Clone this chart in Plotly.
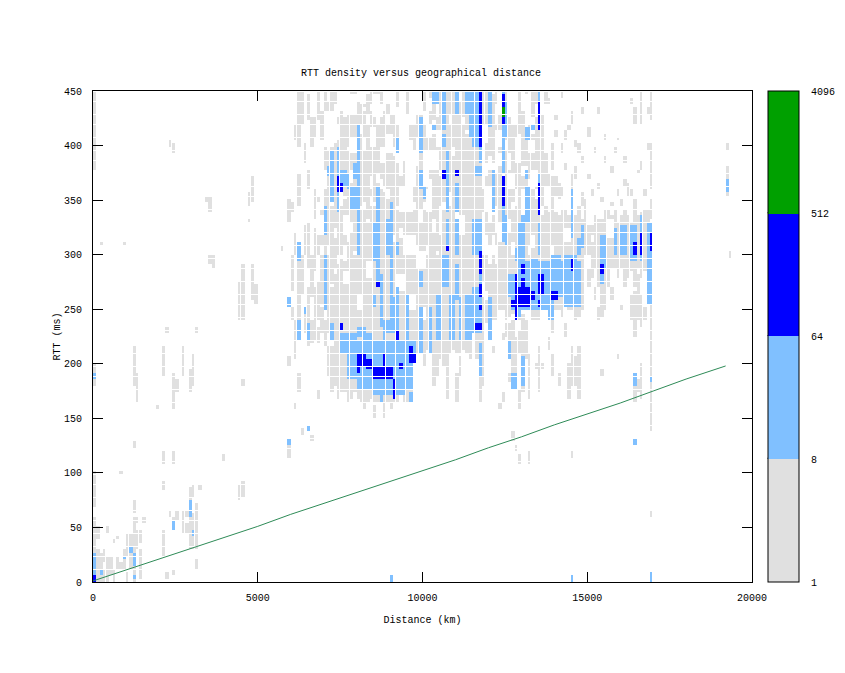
import numpy as np
import plotly.graph_objects as go

# Estimated counts standing for each colour band of the reference
LOW, MID, HIGH, PEAK = 3, 20, 150, 800

# Sparse and main cloud cells: distance bin (km) -> RTT runs (ms)
GRAY_COLS = {
 0:[(0,60),(70,100),(180,200),(380,450)],100:[(0,30),(40,50)],200:[(0,26),(310,312)],300:[(0,12),(20,28)],400:[(0,22),(45,50)],
 500:[(6,24)],600:[(0,12),(36,38)],700:[(12,22),(40,42)],800:[(12,16),(100,102)],900:[(12,30),(310,312)],1000:[(0,8),(24,45)],
 1100:[(12,45)],1200:[(0,60),(64,74),(125,128),(180,215)],1300:[(30,46),(54,58),(165,190)],1400:[(3,30),(38,46)],
 1500:[(54,58)],1900:[(160,162)],2100:[(25,47),(85,92),(108,120),(190,215)],2200:[(4,8),(230,233)],2300:[(60,64),(400,403)],
 2400:[(6,12),(50,58),(108,120),(160,190),(395,402)],2500:[(58,64),(175,185)],2700:[(45,60),(62,66),(190,215)],
 2800:[(45,52),(62,66)],2900:[(30,85),(175,195)],3000:[(30,62),(78,88),(180,210)],3100:[(12,20),(30,62),(62,70),(230,233)],
 3200:[(85,88)],3400:[(350,354)],3500:[(340,352),(292,300)],3600:[(290,298)],3900:[(112,115)],4400:[(75,90),(240,275)],
 4500:[(80,92),(182,186),(240,290)],4700:[(330,333),(345,356)],4800:[(260,290),(350,370)],4900:[(255,272)],5700:[(305,308)],
 5900:[(115,130),(200,205),(330,350)],6000:[(240,250),(268,300),(340,346)],6100:[(160,165),(205,240),(300,320),(405,420)],
 6200:[(175,190),(240,300),(345,375),(400,450)],6300:[(135,140),(265,300),(420,450)],6400:[(228,250),(300,325),(385,400)],
 6500:[(218,268),(290,330),(360,376),(425,445)],6600:[(130,135),(220,240),(262,300),(400,425)],
 6700:[(222,270),(285,322),(335,360),(410,425)],6800:[(170,176),(220,232),(240,276),(300,330),(350,354),(425,450)],
 6900:[(228,250),(255,300),(310,342),(405,430)],7000:[(216,240),(255,330),(340,360),(380,400),(430,450)],
 7100:[(190,215),(228,300),(310,395),(410,440)],7200:[(175,215),(228,270),(275,345),(350,425),(430,450)],
 7300:[(180,280),(290,315),(325,400),(410,420),(440,450)],7400:[(170,290),(300,350),(360,425),(432,450)],
 7500:[(175,295),(300,345),(360,430),(440,450)],7600:[(175,292),(310,350),(355,425)],7700:[(165,310),(320,395),(400,440)],
 7800:[(170,320),(330,366),(378,450)],7900:[(175,300),(305,350),(360,430),(440,450)],8000:[(170,355),(360,440)],
 8100:[(165,340),(345,410),(420,450)],8200:[(160,340),(350,430),(436,450)],8300:[(165,330),(335,420),(430,445)],
 8400:[(170,345),(355,432),(440,450)],8500:[(150,160),(165,345),(350,425),(435,450)],8600:[(165,365),(375,420),(430,450)],
 8700:[(165,360),(370,425),(440,450)],8800:[(150,170),(172,355),(365,430),(438,450)],8900:[(165,350),(360,420),(430,450)],
 9000:[(160,340),(350,395),(410,445)],9100:[(165,310),(320,390),(400,430)],9200:[(165,340),(345,382),(395,420),(435,450)],
 9300:[(175,315),(325,372),(400,425)],9400:[(165,345),(350,385),(410,430)],9500:[(165,302),(310,365),(372,395),(430,450)],
 9600:[(175,300),(320,390),(405,420)],9700:[(205,340),(350,362),(395,420)],9800:[(210,300),(310,380),(410,430)],
 9900:[(215,330),(342,400),(420,450)],10000:[(200,340),(350,420),(432,450)],10100:[(215,300),(310,370),(395,415)],
 10200:[(210,345),(370,430),(444,450)],10300:[(180,320),(335,410),(425,450)],10400:[(190,300),(305,425),(435,450)],
 10500:[(205,370),(380,400),(415,450)],10600:[(200,340),(350,430),(442,450)],10700:[(170,385),(395,450)],
 10800:[(210,420),(430,450)],10900:[(215,390),(400,450)],11000:[(165,190),(210,330),(340,370),(376,450)],
 11100:[(190,205),(210,440)],11200:[(215,420),(428,450)],11300:[(212,410),(416,450)],11400:[(205,440)],
 11500:[(230,305),(310,450)],11600:[(205,450)],11700:[(165,450)],11800:[(180,260),(275,300),(340,360),(420,450)],
 11900:[(238,258),(268,300),(320,340),(350,370),(385,400),(420,450)],12000:[(245,290),(310,330),(365,376),(390,450)],
 12100:[(210,215),(240,300),(320,335),(340,375),(385,445)],12200:[(240,290),(310,320),(345,375),(400,420),(440,450)],
 12300:[(160,165),(250,310),(330,380),(395,430)],12400:[(165,172),(222,228),(250,370),(400,450)],
 12500:[(225,235),(240,310),(320,395),(405,450)],12600:[(185,190),(210,235),(245,320),(335,378),(395,425)],
 12700:[(130,136),(180,240),(246,340),(350,430),(440,450)],12800:[(120,126),(188,224),(240,345),(360,395),(410,440)],
 12900:[(110,116),(160,175),(210,230),(240,320),(325,400),(412,450)],13000:[(175,245),(250,335),(350,432)],
 13100:[(205,240),(250,340),(360,415),(425,450)],13200:[(110,120),(170,210),(250,300),(310,345),(370,420)],
 13300:[(240,305),(320,360),(380,410),(428,450)],13400:[(195,200),(240,350),(360,425),(440,450)],13500:[(175,215),(240,450)],
 13600:[(195,200),(250,335),(345,430)],13700:[(250,345),(365,420),(440,450)],13800:[(215,225),(250,340),(365,375),(395,410)],
 13900:[(190,210),(230,240),(255,290),(310,370),(380,400)],14000:[(250,340),(355,372),(408,412)],14100:[(180,190),(250,335),(350,365)],
 14200:[(245,342),(355,362),(395,400)],14300:[(225,235),(255,340),(405,412)],14400:[(170,200),(250,335)],
 14500:[(115,120),(180,215),(250,340),(360,375),(420,430)],14600:[(180,205),(240,335),(370,380)],
 14700:[(170,215),(245,345),(395,400)],14800:[(250,332),(345,355)],14900:[(290,350)],15000:[(270,340),(410,415)],
 15100:[(280,312),(320,335)],15200:[(260,270),(290,336)],15300:[(240,250),(270,345),(360,365)],15400:[(190,195),(245,335),(350,354)],
 15500:[(250,340),(405,410)],15600:[(270,340)],15700:[(260,270),(290,335),(375,380)],15800:[(290,340),(395,398)],
 15900:[(205,210),(280,330),(355,360)],16000:[(250,255),(290,335),(345,350)],16100:[(270,340),(385,390)],
 16200:[(280,335),(355,365)],16300:[(240,262),(285,330),(355,358)],16400:[(128,132),(165,190),(225,265),(270,350),(420,435)],
 16500:[(175,185),(240,280),(290,335)],16600:[(170,200),(235,262),(280,338),(380,386),(420,450)],
 16700:[(240,250),(285,340)],16800:[(290,340),(398,402)],16900:[(0,8),(60,64),(140,300),(335,350),(360,400),(425,450)],
 19200:[(355,380),(398,402)],19300:[(298,302)],
}

# Scattered single grey cells: km, ms
GRAY_SPOTS = [(13800,440),(14000,425),(14200,445),(14400,415),(14600,400),(14800,385),(14800,430),(15000,370),(15100,355),
 (15300,430),(15500,385),(15700,345),(15900,405),(16100,365),(16300,440),(16500,375),(16700,355),(16800,430),(14300,380),(15200,395)]

# Empty patches inside the grey cloud
EMPTY_BLOCKS = [
 (7000,7300,400,430),(7700,8000,430,445),(8400,8600,400,415),(8800,9000,440,450),(9300,9500,396,440),(9500,9800,365,396),
 (9300,9700,340,362),(10000,10200,365,395),(10200,10500,380,395),(10100,10300,340,360),(10400,10500,430,450),(7600,7800,318,335),
 (9400,9800,300,318),(9200,9500,268,282),(9800,10100,288,302),(10500,10600,320,345),(8400,8500,360,372),(7300,7500,405,420),
 (6800,7000,320,335),(11900,12100,340,362),(12700,12800,300,310),(14000,14200,340,350),(14300,14500,312,322),(15000,15200,328,340),
 (15600,15800,315,332),(8200,8300,398,408),(8700,8900,385,398),(11100,11300,320,335),(11800,11900,262,275),(10000,10100,240,252),
 (8000,8200,250,262),(7600,7800,275,285),(9600,9800,250,262),(10700,10900,345,356),(8300,8500,280,292),(13000,13200,372,380),
 (12700,12900,420,450),(13100,13300,425,445),(12800,13000,385,400),(13200,13400,395,405),(12600,12800,360,375),(13000,13100,345,358),
 (13300,13500,365,378),(13700,13900,395,425),(13600,13700,430,450),(13800,13900,340,362),(12200,12400,400,412),(12300,12400,430,445),
 (8100,8300,440,450),(8500,8700,430,445),(9000,9200,430,450),(9800,10000,430,450),(10000,10200,420,432),(10400,10600,400,412),
 (10100,10300,408,420),(8900,9100,395,410),(7800,8000,395,408),(7400,7600,432,450),(14900,15100,290,300),(15300,15500,335,345),
]

# Light-blue blocks: km start, km end, RTT low, RTT high
MID_BLOCKS = [
 (0,100,6,27),(200,300,8,11),(900,1000,21,24),(1100,1200,28,31),(1200,1300,17,26),(1200,1300,3,6),
 (2400,2500,50,55),(2900,3000,60,75),(3000,3100,43,48),(5900,6000,128,132),(6500,6600,138,142),
 (5900,6000,253,259),(6200,6300,222,238),(6200,6300,296,312),(6400,6500,246,250),(6500,6600,222,236),(7000,7100,250,300),
 (7000,7100,320,345),(7100,7300,372,380),(7200,7300,222,236),(7200,7300,350,396),(7400,7500,340,398),(7500,7700,365,378),
 (7700,7800,360,375),(7800,8000,342,362),(7900,8000,370,382),(8000,8100,300,420),(8500,8700,295,330),(8600,8700,330,362),
 (8900,9100,302,332),(9000,9100,332,348),(9200,9300,300,312),(9200,9300,395,408),(9900,10000,360,378),(10000,10100,352,362),
 (9900,10000,395,425),(10300,10400,415,420),(10300,10500,440,450),(10600,10700,415,450),(10700,10800,305,332),
 (10700,10800,340,395),(10600,10700,400,410),(11000,11100,300,332),(11000,11100,340,365),(11000,11100,430,450),
 (11500,11800,302,333),(11300,11700,430,450),(11500,11800,400,425),(11400,11700,408,440),(11700,11800,385,410),(11600,11800,372,380),
 (7460,9800,210,222),(7500,8000,222,228),(8200,8500,222,226),(8800,8900,222,228),(7700,9700,186,210),(8000,9700,179,190),
 (8500,9500,172,180),(8700,8800,165,172),
 (9100,9200,172,176),(9600,9700,165,172),(9000,9100,230,300),(9100,9200,230,260),(9200,9300,230,268),(8700,8800,235,280),
 (8000,8300,226,232),(8800,9000,228,240),(8600,8700,272,292),(8500,8600,252,262),(9500,9600,222,262),(9600,9700,208,222),
 (9900,10000,212,250),(10200,10300,212,250),(10400,10600,222,262),(10800,11000,222,262),(11100,11200,222,260),(11300,11500,222,262),
 (11500,11800,228,270),(11700,11800,190,218),(11700,11800,270,302),(12000,12100,222,260),(12100,12200,340,376),
 (11000,11100,260,290),(10600,10800,270,300),(9900,10000,270,285),
 (12430,12500,312,362),(12500,12600,310,336),(12400,12500,375,450),(12500,12600,410,440),(12000,12100,418,450),(13100,13300,405,415),
 (13300,13400,415,420),(13100,13200,370,378),(13500,13600,300,330),(13500,13600,360,375),(13500,13600,430,450),
 (13100,13300,330,362),(12600,12700,205,222),(12700,12800,178,190),(12800,12900,178,192),(12900,13000,245,330),(13000,13100,182,207),(13000,13100,300,335),
 (13000,14800,262,294),(12630,13000,262,282),(12700,14000,250,262),(12800,13100,294,304),(13300,13500,294,297),(13900,14200,294,300),
 (14300,14700,294,300),(13800,14000,240,250),(14300,14800,252,262),
 (14500,14600,315,360),(14700,14800,300,315),(14800,14900,308,326),(15400,15600,290,318),(15400,15500,275,290),
 (15800,15900,300,322),(16000,16200,300,325),(16300,16500,296,325),(16600,16700,296,335),(16800,16950,300,330),(16800,17000,255,304),(16900,17000,183,187),
 (16400,16500,128,132),(16400,16500,180,190),(9000,9100,0,5),(14500,14600,2,5),(16900,17000,0,8),(19200,19300,358,368),
 (0,100,186,192),
]

# Dark-blue blocks
HIGH_BLOCKS = [
 (0,100,0,5),(7400,7500,368,372),(7400,7600,358,366),(8000,8300,200,209),(8300,8500,196,204),(8500,9100,186,198),
 (8800,8900,198,209),(9100,9200,168,186),(9600,9700,209,215),(9600,9800,201,209),(9200,9300,223,229),(8600,8700,270,274),
 (7480,7600,233,237),(11600,11800,233,237),(11700,11800,250,254),(9300,9400,195,199),(8000,8100,192,196),
 (11700,11800,400,450),(11700,11800,262,272),(11700,11800,284,302),(12400,12500,420,445),(12400,12500,345,372),
 (13500,13600,415,440),(13500,13600,338,365),(12800,12900,242,280),(12900,13300,252,270),(13000,13100,270,278),
 (13000,13100,282,290),(13300,13400,258,266),(13500,13700,265,280),(13500,13600,252,258),(13900,14100,258,265),
 (12700,12800,252,256),(14500,14600,285,295),(15400,15500,284,289),(16400,16500,300,310),(16600,16700,300,320),
 (16900,17000,305,320),(11000,11100,373,377),(10700,10800,305,308),(10600,10700,370,376),
]

# Green cell
PEAK_BLOCKS = [(12400,12500,428,434)]

# Model line
LINE_KM = [0,1000,2000,3000,4000,5000,6000,7000,8000,9000,10000,11000,12000,13000,14000,15000,16000,17000,18000,19200]
LINE_MS = [1,11,21,31,41,51,62,72,82,92,102,112,123,133,144,154,164,175,186,198]

X_TICKS = [0,5000,10000,15000,20000]
Y_TICKS = [0,50,100,150,200,250,300,350,400,450]
BAR_VALUES = [1,8,64,512,4096]

N_X, N_Y = 200, 150
KM_BIN, MS_BIN = 100, 3
counts = np.full((N_Y, N_X), np.nan)

def paint(km0, km1, lo, hi, value):
    c0, c1 = round(km0 / KM_BIN), max(round(km1 / KM_BIN), round(km0 / KM_BIN) + 1)
    r0, r1 = int(lo // MS_BIN), max(int(np.ceil(hi / MS_BIN)), int(lo // MS_BIN) + 1)
    counts[r0:min(r1, N_Y), c0:min(c1, N_X)] = value

for km, runs in GRAY_COLS.items():
    for lo, hi in runs:
        paint(km, km + KM_BIN, lo, hi, LOW)
for km, ms in GRAY_SPOTS:
    paint(km, km + KM_BIN, ms, ms + MS_BIN, LOW)
for km0, km1, lo, hi in EMPTY_BLOCKS:
    paint(km0, km1, lo, hi, np.nan)
for blocks, value in ((MID_BLOCKS, MID), (HIGH_BLOCKS, HIGH), (PEAK_BLOCKS, PEAK)):
    for km0, km1, lo, hi in blocks:
        paint(km0, km1, lo, hi, value)

# Page body adds 8 px on each side, so the figure is 16 px smaller than the window
FIG_W, FIG_H = 829, 657
LEFT, TOP, PLOT_W, PLOT_H = 85, 83, 659, 491

# Seams left by pixel rounding of the 3-px cells (every 3 or 4 bins)
def seam_pixels(n_bins, plot_px):
    step = plot_px / n_bins
    edges = np.floor(np.arange(n_bins + 1) * step)
    return [edges[k + 1] - 0.5 for k in range(n_bins) if edges[k + 1] - edges[k] >= 4]

seam_x, seam_y = [], []
for p in seam_pixels(N_X, PLOT_W):
    km = p / PLOT_W * 20000
    seam_x += [km, km, None]
    seam_y += [0, 450, None]
for p in seam_pixels(N_Y, PLOT_H):
    ms = p / PLOT_H * 450
    seam_x += [0, 20000, None]
    seam_y += [ms, ms, None]

FONT = dict(family="Liberation Mono, DejaVu Sans Mono, monospace", size=10, color="black")
scale = [[0, "#e0e0e0"], [0.25, "#e0e0e0"], [0.25, "#80c0ff"], [0.5, "#80c0ff"],
         [0.5, "#0000ff"], [0.75, "#0000ff"], [0.75, "#00a000"], [1, "#00a000"]]

BAR_LEFT = (767.5 - 8 - LEFT) / PLOT_W
BAR_W = 31 / PLOT_W
fig = go.Figure()
fig.add_trace(go.Heatmap(
    z=np.log2(counts), x0=KM_BIN / 2, dx=KM_BIN, y0=MS_BIN / 2, dy=MS_BIN,
    zmin=0, zmax=12, colorscale=scale, hoverongaps=False,
    colorbar=dict(x=BAR_LEFT, xanchor="left", y=0, yanchor="bottom", len=1, lenmode="fraction",
                  thickness=31, thicknessmode="pixels", xpad=0, ypad=0, outlinewidth=1, outlinecolor="black",
                  tickmode="array", tickvals=[float(np.log2(v)) for v in BAR_VALUES],
                  ticktext=[str(v) for v in BAR_VALUES], ticks="outside", ticklen=10,
                  tickcolor="rgba(0,0,0,0)", tickfont=FONT),
))
fig.add_trace(go.Scatter(x=seam_x, y=seam_y, mode="lines", line=dict(color="white", width=1),
                         hoverinfo="skip", showlegend=False))
fig.add_trace(go.Scatter(x=LINE_KM, y=LINE_MS, mode="lines", line=dict(color="#2e8b57", width=1), showlegend=False))

axis = dict(showline=True, mirror="ticks", linecolor="black", linewidth=1, ticks="inside", ticklen=10,
            tickcolor="black", showgrid=False, zeroline=False, tickfont=FONT, tickmode="array")
fig.update_xaxes(axis, range=[0, 20000], tickvals=X_TICKS, ticktext=[str(v) for v in X_TICKS], ticklabelstandoff=6,
                 title=dict(text="Distance (km)", font=FONT, standoff=12))
fig.update_yaxes(axis, range=[0, 450], tickvals=Y_TICKS, ticktext=[str(v) for v in Y_TICKS], ticklabelstandoff=8,
                 title=dict(text="RTT (ms)", font=FONT, standoff=1))

# Small tick marks on both sides of the colour bar
for v in BAR_VALUES[1:-1]:
    y = np.log2(v) / 12 + 0.002
    for x0, x1 in ((BAR_LEFT, BAR_LEFT + 6 / PLOT_W), (BAR_LEFT + BAR_W - 6 / PLOT_W, BAR_LEFT + BAR_W)):
        fig.add_shape(type="line", xref="paper", yref="paper", x0=x0, x1=x1, y0=y, y1=y,
                      line=dict(color="black", width=1))

fig.update_layout(
    width=FIG_W, height=FIG_H, margin=dict(l=LEFT, r=FIG_W - LEFT - PLOT_W, t=TOP, b=FIG_H - TOP - PLOT_H, autoexpand=False),
    paper_bgcolor="white", plot_bgcolor="white", font=FONT, showlegend=False,
    title=dict(text="RTT density versus geographical distance", font=FONT, x=(421 - 8) / FIG_W, xanchor="center",
               y=1 - (72 - 8) / FIG_H, yanchor="middle"),
)
fig.write_html("out.html")
